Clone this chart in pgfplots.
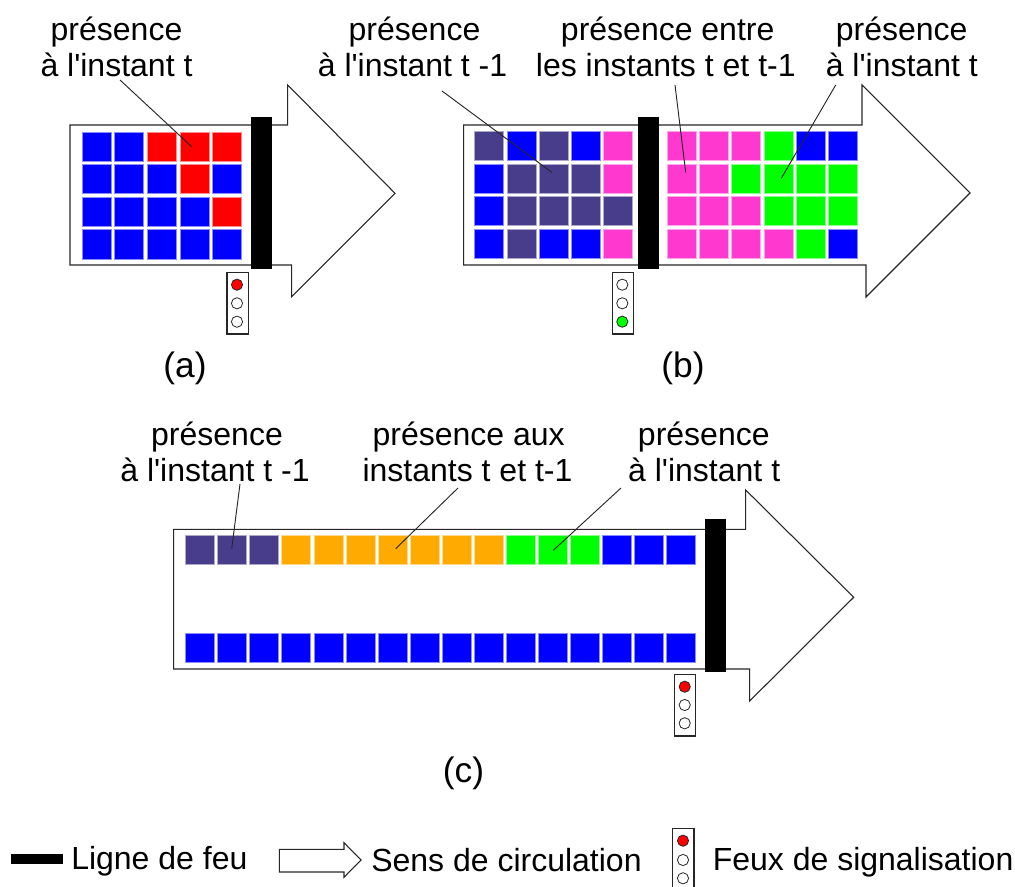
\documentclass[border=0pt]{standalone}
\usepackage{fontspec}
\setmainfont{Liberation Sans}[Ligatures=TeXOff]
\usepackage{pgfplots}
\pgfplotsset{compat=1.18}

\definecolor{cellblue}{HTML}{0000FF}
\definecolor{cellred}{HTML}{FF0000}
\definecolor{cellpurple}{HTML}{483D8B}
\definecolor{cellpink}{HTML}{FF38D0}
\definecolor{cellgreen}{HTML}{00FF00}
\definecolor{cellorange}{HTML}{FFAA00}

\pgfplotsset{
    canvas/.style={
        scale only axis,
        width=761.25pt,
        height=665.25pt,
        xmin=0, xmax=1015,
        ymin=0, ymax=887,
        y dir=reverse,
        axis lines=none,
        clip=false,
    },
    cell/.style={only marks, mark=square*, mark size=10.9pt,
        mark options={fill=#1, draw=#1!45, line width=0.55pt}},
    outline/.style={draw=black!85, line width=0.8pt, fill=white},
    leader/.style={draw=black!85, line width=0.7pt},
    feu/.style={draw=none, fill=black},
    lamp/.style={only marks, mark=*, mark size=4.2pt,
        mark options={fill=#1, draw=black!85, line width=0.6pt}},
}
\newcommand{\lbl}[3]{\node[anchor=base, font=\fontsize{24}{24}\selectfont, inner sep=0pt] at (axis cs:#1,#2) {#3};}
\newcommand{\lft}[3]{\node[anchor=base west, font=\fontsize{24}{24}\selectfont, inner sep=0pt] at (axis cs:#1,#2) {#3};}
\newcommand{\sub}[3]{\node[anchor=base, font=\fontsize{26.5}{26.5}\selectfont, inner sep=0pt] at (axis cs:#1,#2) {#3};}

\begin{document}
\begin{tikzpicture}
\begin{axis}[canvas]

% arrows
\addplot[outline] coordinates {(70,125) (287.7,125) (287.7,85) (395,193.3) (291.7,296.7) (291.7,265) (70,265)} -- cycle;
\addplot[outline] coordinates {(463.7,125) (862,125) (862,85) (970,193) (866,297) (866,265) (463.7,265)} -- cycle;
\addplot[outline] coordinates {(173.7,529.3) (745.7,529.3) (745.7,490) (853.7,597.3) (749.7,701) (749.7,669) (173.7,669)} -- cycle;

% (a)
\addplot[cell=cellblue] coordinates {
    (96.7,146.7) (129.2,146.7)
    (96.7,179.2) (129.2,179.2) (161.8,179.2) (226.9,179.2)
    (96.7,211.8) (129.2,211.8) (161.8,211.8) (194.4,211.8)
    (96.7,244.4) (129.2,244.4) (161.8,244.4) (194.4,244.4) (226.9,244.4)
};
\addplot[cell=cellred] coordinates {
    (161.8,146.7) (194.4,146.7) (226.9,146.7) (194.4,179.2) (226.9,211.8)
};

% (b)
\addplot[cell=cellpurple] coordinates {
    (489.3,146.3) (553.7,146.3)
    (521.5,178.9) (553.7,178.9) (585.9,178.9)
    (521.5,211.3) (553.7,211.3) (585.9,211.3) (618,211.3)
    (521.5,243.8)
};
\addplot[cell=cellblue] coordinates {
    (521.5,146.3) (585.9,146.3) (489.3,178.9) (489.3,211.3)
    (489.3,243.8) (553.7,243.8) (585.9,243.8)
    (810.7,146.3) (842.7,146.3) (842.7,243.8)
};
\addplot[cell=cellpink] coordinates {
    (618,146.3) (618,178.9) (618,243.8)
    (682,146.3) (714.3,146.3) (746.3,146.3)
    (682,178.9) (714.3,178.9)
    (682,211.3) (714.3,211.3) (746.3,211.3)
    (682,243.8) (714.3,243.8) (746.3,243.8) (778.7,243.8)
};
\addplot[cell=cellgreen] coordinates {
    (778.7,146.3)
    (746.3,178.9) (778.7,178.9) (810.7,178.9) (842.7,178.9)
    (778.7,211.3) (810.7,211.3) (842.7,211.3)
    (810.7,243.8)
};

% (c)
\addplot[cell=cellpurple] coordinates {(200,549.8) (232.1,549.8) (264.2,549.8)};
\addplot[cell=cellorange] coordinates {
    (296.3,549.8) (328.4,549.8) (360.5,549.8) (392.5,549.8)
    (424.6,549.8) (456.7,549.8) (488.8,549.8)
};
\addplot[cell=cellgreen] coordinates {(520.9,549.8) (553,549.8) (585.1,549.8)};
\addplot[cell=cellblue] coordinates {
    (617.2,549.8) (649.2,549.8) (681.3,549.8)
    (200,647.7) (232.1,647.7) (264.2,647.7) (296.3,647.7)
    (328.4,647.7) (360.5,647.7) (392.5,647.7) (424.6,647.7)
    (456.7,647.7) (488.8,647.7) (520.9,647.7) (553,647.7)
    (585.1,647.7) (617.2,647.7) (649.2,647.7) (681.3,647.7)
};

% lignes de feu
\addplot[feu] coordinates {(251,116.7) (272,116.7) (272,269) (251,269)} -- cycle;
\addplot[feu] coordinates {(638.3,116.7) (659,116.7) (659,269) (638.3,269)} -- cycle;
\addplot[feu] coordinates {(705,519.3) (725.7,519.3) (725.7,672) (705,672)} -- cycle;

% feux
\addplot[outline] coordinates {(227,272.3) (248.3,272.3) (248.3,334) (227,334)} -- cycle;
\addplot[outline] coordinates {(612.3,272.3) (633.3,272.3) (633.3,334) (612.3,334)} -- cycle;
\addplot[outline] coordinates {(674.7,674.3) (695.7,674.3) (695.7,736) (674.7,736)} -- cycle;
\addplot[outline] coordinates {(672.7,828.3) (694,828.3) (694,888) (672.7,888)} -- cycle;
\addplot[lamp=cellred] coordinates {(237,284.7) (684.7,686.7) (683,840.7)};
\addplot[lamp=cellgreen] coordinates {(622.3,321.7)};
\addplot[lamp=white] coordinates {
    (237,303.3) (237,321.7)
    (622.3,284.7) (622.3,303.3)
    (684.7,705) (684.7,723.3)
    (683,860) (683,878.3)
};

% legende
\addplot[feu] coordinates {(11,854.3) (62.7,854.3) (62.7,864) (11,864)} -- cycle;
\addplot[outline] coordinates {(279.3,849.3) (344,849.3) (344,842.7) (361,860) (344,877.3) (344,872) (279.3,872)} -- cycle;

\lbl{116.5}{40.5}{présence}
\lbl{116.5}{76.5}{à l'instant t}
\lbl{414.5}{40.5}{présence}
\lbl{412.5}{76.5}{à l'instant t -1}
\lbl{667.7}{40.5}{présence entre}
\lbl{665.8}{76.5}{les instants t et t-1}
\lbl{901.7}{40.5}{présence}
\lbl{901.8}{76.5}{à l'instant t}
\lbl{217}{445.7}{présence}
\lbl{215}{481.7}{à l'instant t -1}
\lbl{468.7}{445.7}{présence aux}
\lbl{467.5}{481.7}{instants t et t-1}
\lbl{703.8}{445.7}{présence}
\lbl{704.2}{481.7}{à l'instant t}
\sub{185}{378}{(a)}
\sub{683}{378}{(b)}
\sub{463.5}{783}{(c)}
\lft{71}{869.3}{Ligne de feu}
\lft{371}{871}{Sens de circulation}
\lft{712.5}{870}{Feux de signalisation}

\end{axis}

% marks of the first axis lie over its lines, so the leaders get their own axis
\begin{axis}[canvas]
\addplot[leader] coordinates {(120,80) (191.7,146.7)};
\addplot[leader] coordinates {(442,91) (551.7,172.3)};
\addplot[leader] coordinates {(675,85) (685.7,172.3)};
\addplot[leader] coordinates {(835.7,85) (781.3,178.3)};
\addplot[leader] coordinates {(240,484) (231.7,548.7)};
\addplot[leader] coordinates {(458,488) (395.7,548.7)};
\addplot[leader] coordinates {(621,488) (553.3,550.3)};
\end{axis}

\pgfresetboundingbox
\path[use as bounding box] (0,0) rectangle (761.25pt,665.25pt);
\end{tikzpicture}
\end{document}
